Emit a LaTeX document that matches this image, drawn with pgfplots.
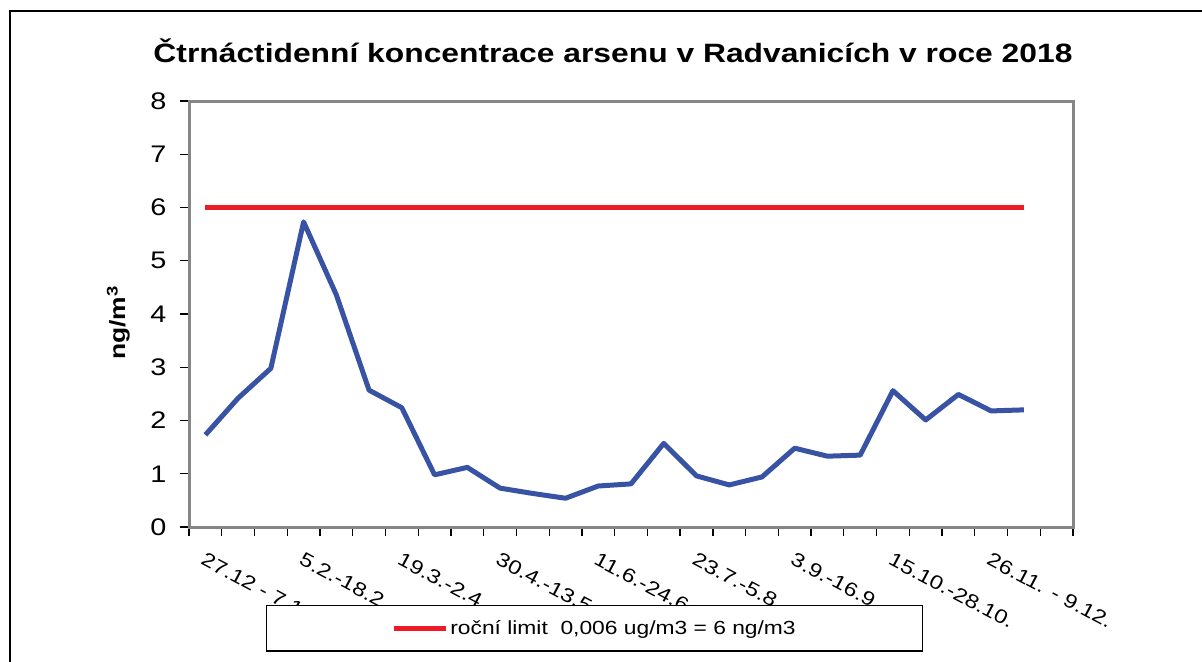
\documentclass[border=0pt]{standalone}
\usepackage{fontspec}
\setmainfont{Liberation Sans}[FakeStretch=1.2]
\usepackage{pgfplots}
\pgfplotsset{compat=1.18}
\definecolor{serieblue}{RGB}{56,83,164}
\definecolor{limitred}{RGB}{237,28,36}
\definecolor{framegray}{RGB}{134,134,134}
\begin{document}
\begin{tikzpicture}
\path[use as bounding box] (0,0) rectangle (1202bp,-662bp);
\draw[black, line width=1.2bp] (10bp,-662bp) -- (10bp,-11bp) -- (1202bp,-11bp);
\node[font=\fontsize{26.5bp}{30bp}\selectfont\bfseries, anchor=base] at (613bp,-62bp)
  {Čtrnáctidenní koncentrace arsenu v Radvanicích v roce 2018};
\begin{axis}[
  at={(189bp,-527bp)}, anchor=south west,
  width=884bp, height=426bp, scale only axis,
  xmin=-0.5, xmax=26.5, ymin=0, ymax=8,
  ytick={0,1,...,8},
  xtick={-0.5,0.5,...,26.5}, xticklabels={},
  extra x ticks={0,3,6,9,12,15,18,21,24},
  extra x tick labels={27.12 - 7.1,5.2.-18.2,19.3.-2.4,30.4.-13.5,11.6.-24.6,23.7.-5.8,3.9.-16.9,15.10.-28.10.,26.11. - 9.12.},
  extra x tick style={major tick length=0pt, xticklabel style={rotate=-28, anchor=north west, yshift=-18bp, xshift=9bp}},
  xtick pos=bottom, ytick pos=left,
  tick align=outside, major tick length=9bp,
  tick style={black, line width=1.3bp},
  axis line style={framegray, line width=3bp},
  /pgf/number format/assume math mode=true,
  yticklabel style={font=\fontsize{24bp}{28bp}\selectfont, xshift=-10bp},
  xticklabel style={font=\fontsize{19.5bp}{23bp}\selectfont},
  ylabel={\textbf{ng/m\textsuperscript{3}}},
  ylabel style={font=\fontsize{22bp}{26bp}\selectfont, at={(axis description cs:-0.080,0.479)}, anchor=center, rotate=0},
  legend style={at={(axis description cs:0.459,-0.183)}, anchor=north,
    draw=black, line width=1.3bp, fill=white, inner xsep=125bp, inner ysep=13bp,
    font=\fontsize{19bp}{22bp}\selectfont, legend cell align=left},
  legend image code/.code={\draw[#1, line width=4.5bp] (0bp,0bp) -- (52bp,0bp);},
]
\addplot[serieblue, line width=5bp, line join=round, forget plot] coordinates {
(0,1.73) (1,2.42) (2,2.98) (3,5.73) (4,4.36) (5,2.57) (6,2.24) (7,0.98) (8,1.12) (9,0.73)
(10,0.63) (11,0.54) (12,0.77) (13,0.81) (14,1.57) (15,0.96) (16,0.79) (17,0.94) (18,1.48)
(19,1.33) (20,1.35) (21,2.56) (22,2.01) (23,2.49) (24,2.18) (25,2.20)};
\addplot[limitred, line width=4.5bp] coordinates {(0,6) (25,6)};
\addlegendentry{roční limit\ \ 0,006 ug/m3 = 6 ng/m3}
\end{axis}
\end{tikzpicture}
\end{document}
